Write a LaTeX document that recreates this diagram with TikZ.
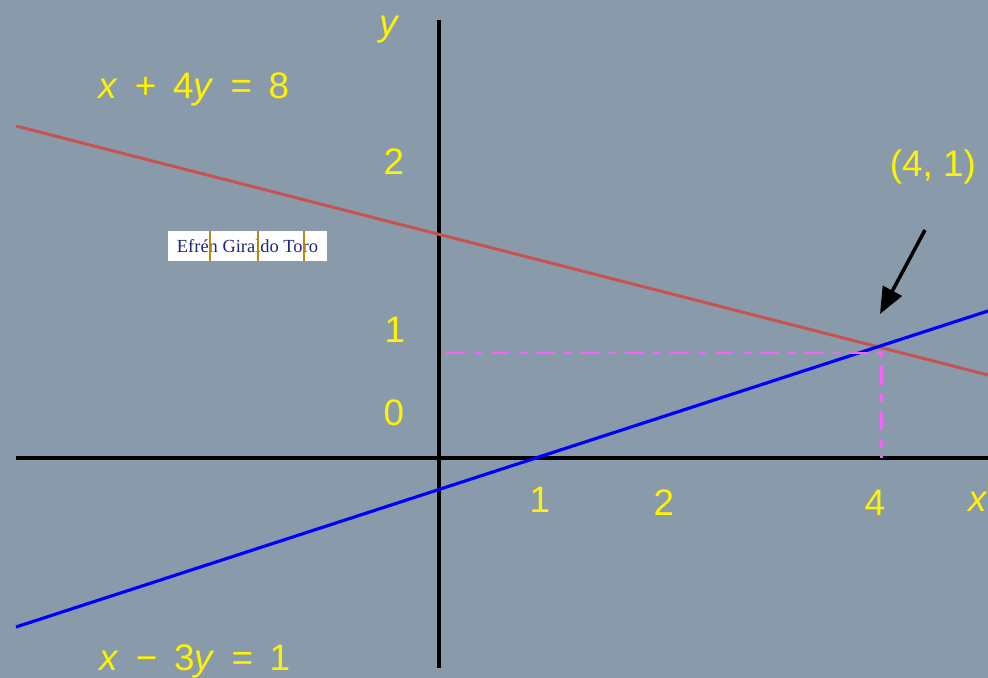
\documentclass[tikz,border=0pt]{standalone}
\usepackage{fontspec}
\usepackage{tikz}
\usetikzlibrary{arrows.meta,positioning}
\newfontfamily\labelfont{Liberation Sans}
\newfontfamily\signfont{Liberation Serif}
\definecolor{bgcol}{RGB}{137,154,171}
\definecolor{redline}{RGB}{200,82,82}
\definecolor{dashcol}{RGB}{245,100,245}
\definecolor{cellline}{RGB}{184,134,11}
\definecolor{signcol}{RGB}{30,40,120}
\newcommand{\vx}{\textit{x}}
\newcommand{\vy}{\textit{y}}
\newcommand{\op}[1]{\hspace{0.45em}#1\hspace{0.45em}}

\begin{document}
\begin{tikzpicture}[x=0.02cm,y=-0.02cm,
  lbl/.style={text=yellow,font=\labelfont\fontsize{21}{25}\selectfont,inner sep=0pt},
  axis line/.style={black,line width=1.9pt},
  guide/.style={dashcol,line width=1.7pt,dash pattern=on 11pt off 5pt on 4.5pt off 5pt}]

  \clip (0,0) rectangle (988,678);
  \fill[bgcol] (0,0) rectangle (988,678);

  % Axes
  \coordinate (xl) at (16,458);
  \coordinate (xr) at (988,458);
  \coordinate (yt) at (439,20);
  \coordinate (yb) at (439,668);
  \draw[axis line] (xl) -- (xr);
  \draw[axis line,line width=2.3pt] (yt) -- (yb);

  % Lines
  \coordinate (r1) at (16,126);
  \coordinate (r2) at (988,375);
  \coordinate (b1) at (16,627);
  \coordinate (b2) at (988,311);
  \coordinate (P) at (881,353);
  \coordinate (Py) at (446,353);
  \coordinate (Px) at (881,458);
  \draw[redline,line width=1.7pt] (r1) -- (r2);
  \draw[blue,line width=1.8pt] (b1) -- (b2);

  % Guides to the axes
  \draw[guide] (Py) -- (P) -- (Px);

  % Labels
  \node[lbl] (ylab) at (390,30) {\vy};
  \node[lbl] (eqr) at (194,89) {\vx\op{+}4\vy\op{=}8};
  \node[lbl] (eqb) at (195,661) {\vx\op{−}3\vy\op{=}1};
  \node[lbl] (ty2) at (394,162) {2};
  \node[lbl] (ty1) at (395,330) {1};
  \node[lbl] (ty0) at (394,413) {0};
  \node[lbl] (tx1) at (540,500) {1};
  \node[lbl] (tx2) at (664,503) {2};
  \node[lbl] (tx4) at (875,503) {4};
  \node[lbl] (xlab) at (978,502) {\vx};
  \node[lbl] (pt) at (933,167) {(4, 1)};

  % Arrow to the point
  \coordinate (at) at (925,230);
  \coordinate (ah) at (880,314);
  \draw[-{Triangle[length=15pt,width=12pt]},line width=2pt] (at) -- (ah);

  % Signature
  \node[fill=white,minimum width=159*0.02cm,minimum height=30*0.02cm,inner sep=0pt,
    text=signcol,font=\signfont\fontsize{10.5}{12}\selectfont] (sign) at (247.5,246) {Efrén Giraldo Toro};
  \foreach \cx in {210,258,304}
    \draw[cellline,line width=0.7pt] (\cx,231) -- (\cx,261);

\end{tikzpicture}
\end{document}
